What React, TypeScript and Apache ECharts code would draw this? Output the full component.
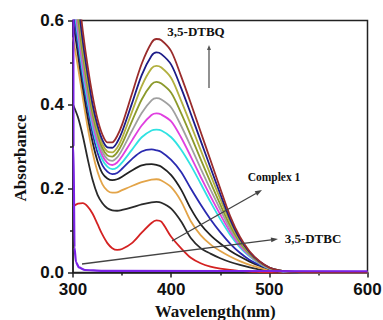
import React, { useEffect, useRef } from "react";
import * as echarts from "echarts";

// Wavelength grid (nm)
const WL = [300, 305, 310, 315, 320, 325, 330, 335, 340, 345, 350, 360, 370, 380, 385, 390, 400, 410, 420, 430, 440, 450, 460, 470, 480, 490, 500, 510, 520, 540, 600];

// Absorbance spectra (top to bottom at ~385 nm)
const brown = [0.8, 0.68, 0.575, 0.49, 0.42, 0.365, 0.328, 0.31, 0.31, 0.325, 0.352, 0.425, 0.497, 0.547, 0.556, 0.553, 0.527, 0.468, 0.403, 0.335, 0.268, 0.2, 0.135, 0.085, 0.05, 0.027, 0.012, 0.005, 0.002, 0, 0];
const navy = [0.76, 0.65, 0.55, 0.47, 0.4, 0.35, 0.315, 0.298, 0.297, 0.31, 0.335, 0.402, 0.47, 0.516, 0.524, 0.52, 0.495, 0.44, 0.378, 0.314, 0.25, 0.187, 0.127, 0.08, 0.048, 0.026, 0.012, 0.005, 0.002, 0, 0];
const olive1 = [0.74, 0.63, 0.535, 0.455, 0.39, 0.34, 0.305, 0.288, 0.286, 0.297, 0.32, 0.382, 0.444, 0.486, 0.492, 0.488, 0.463, 0.41, 0.352, 0.292, 0.233, 0.175, 0.12, 0.076, 0.046, 0.025, 0.011, 0.005, 0.002, 0, 0];
const olive2 = [0.72, 0.61, 0.52, 0.44, 0.378, 0.33, 0.296, 0.279, 0.276, 0.286, 0.306, 0.36, 0.412, 0.448, 0.454, 0.45, 0.428, 0.38, 0.326, 0.27, 0.215, 0.162, 0.112, 0.072, 0.044, 0.024, 0.011, 0.005, 0.002, 0, 0];
const gray = [0.7, 0.59, 0.505, 0.43, 0.367, 0.32, 0.287, 0.27, 0.266, 0.274, 0.292, 0.337, 0.38, 0.41, 0.415, 0.412, 0.393, 0.35, 0.3, 0.248, 0.198, 0.15, 0.104, 0.068, 0.042, 0.023, 0.01, 0.004, 0.002, 0, 0];
const magenta = [0.68, 0.575, 0.49, 0.42, 0.357, 0.31, 0.278, 0.261, 0.256, 0.262, 0.277, 0.314, 0.35, 0.375, 0.379, 0.376, 0.36, 0.322, 0.276, 0.228, 0.182, 0.138, 0.097, 0.064, 0.04, 0.022, 0.01, 0.004, 0.002, 0, 0];
const cyan = [0.66, 0.56, 0.475, 0.405, 0.345, 0.3, 0.268, 0.252, 0.246, 0.25, 0.262, 0.292, 0.322, 0.338, 0.34, 0.338, 0.322, 0.293, 0.255, 0.212, 0.168, 0.127, 0.09, 0.06, 0.038, 0.021, 0.009, 0.004, 0.001, 0, 0];
const blue = [0.63, 0.54, 0.46, 0.39, 0.33, 0.285, 0.255, 0.24, 0.234, 0.237, 0.247, 0.27, 0.288, 0.293, 0.291, 0.287, 0.268, 0.24, 0.2, 0.162, 0.127, 0.096, 0.069, 0.047, 0.03, 0.018, 0.009, 0.004, 0.001, 0, 0];
const black1 = [0.6, 0.52, 0.44, 0.37, 0.31, 0.265, 0.236, 0.224, 0.22, 0.222, 0.228, 0.243, 0.255, 0.258, 0.256, 0.252, 0.232, 0.198, 0.152, 0.115, 0.089, 0.069, 0.052, 0.038, 0.026, 0.016, 0.008, 0.004, 0.001, 0, 0];
const orange = [0.56, 0.49, 0.415, 0.345, 0.285, 0.24, 0.21, 0.195, 0.19, 0.191, 0.196, 0.206, 0.215, 0.221, 0.222, 0.219, 0.203, 0.17, 0.122, 0.089, 0.067, 0.051, 0.038, 0.027, 0.018, 0.011, 0.006, 0.003, 0.001, 0, 0];
const black2 = [0.4, 0.37, 0.325, 0.27, 0.22, 0.185, 0.165, 0.153, 0.148, 0.147, 0.149, 0.155, 0.162, 0.167, 0.168, 0.166, 0.152, 0.122, 0.082, 0.058, 0.045, 0.034, 0.025, 0.018, 0.012, 0.007, 0.004, 0.002, 0.001, 0, 0];
const red = [0.157, 0.164, 0.165, 0.157, 0.14, 0.115, 0.09, 0.07, 0.058, 0.054, 0.056, 0.07, 0.095, 0.118, 0.124, 0.121, 0.085, 0.058, 0.035, 0.022, 0.014, 0.009, 0.006, 0.004, 0.002, 0.001, 0, 0, 0, 0, 0];

// 3,5-DTBC spectrum (own wavelength points)
const dtbcWL = [300, 300.5, 301.5, 303, 306, 312, 330, 600];
const dtbc = [1.5, 0.3, 0.06, 0.025, 0.012, 0.006, 0.004, 0.003];

const curves = [
  { data: red, color: "#d42222" },
  { data: black2, color: "#2a2a2a" },
  { data: orange, color: "#e3a448" },
  { data: black1, color: "#222222" },
  { data: blue, color: "#2a2ab0" },
  { data: cyan, color: "#30e2e2" },
  { data: magenta, color: "#e040e0" },
  { data: gray, color: "#a0a0a0" },
  { data: olive2, color: "#8c9a2c" },
  { data: olive1, color: "#b2b040" },
  { data: navy, color: "#1c1c88" },
  { data: brown, color: "#9a2c2c" },
];

const X_TICKS = [300, 400, 500, 600];
const Y_TICKS = [0.0, 0.2, 0.4, 0.6];

function arrow(x1: number, y1: number, x2: number, y2: number, color: string, L = 7, W = 3) {
  const a = Math.atan2(y2 - y1, x2 - x1);
  const c = Math.cos(a), s = Math.sin(a);
  const bx = x2 - L * c, by = y2 - L * s;
  return [
    { type: "line", shape: { x1, y1, x2: bx, y2: by }, style: { stroke: color, lineWidth: 1.3 }, z: 100 },
    {
      type: "polygon",
      shape: { points: [[x2, y2], [bx + W * s, by - W * c], [bx - W * s, by + W * c]] },
      style: { fill: color },
      z: 100,
    },
  ];
}

export default function App() {
  const ref = useRef<HTMLDivElement>(null);
  useEffect(() => {
    const chart = echarts.init(ref.current!, null, { renderer: "svg" });
    const serif = "'Liberation Serif', 'DejaVu Serif', serif";
    const sans = "'Liberation Sans', Arial, sans-serif";
    const series: any[] = curves.map((c) => ({
      type: "line",
      data: WL.map((w, i) => [w, c.data[i]]),
      smooth: 0.3,
      showSymbol: false,
      lineStyle: { color: c.color, width: 1.8 },
      clip: true,
    }));
    series.push({
      type: "line",
      data: dtbcWL.map((w, i) => [w, dtbc[i]]),
      smooth: 0.2,
      smoothMonotone: "x",
      showSymbol: false,
      lineStyle: { color: "#7a22e6", width: 2.2 },
      clip: true,
      z: 5,
    });
    chart.setOption({
      animation: false,
      grid: {
        left: 73, right: 15.5, top: 20.5, bottom: 47.5,
        outerBoundsMode: "none",
        containLabel: false,
        show: true, borderColor: "#222", borderWidth: 1.5, backgroundColor: "transparent",
      },
      xAxis: {
        type: "value",
        min: X_TICKS[0],
        max: X_TICKS[X_TICKS.length - 1],
        interval: 100,
        name: "Wavelength(nm)",
        nameLocation: "middle",
        nameGap: 30,
        nameTextStyle: { fontFamily: serif, fontWeight: "bold", fontSize: 17, color: "#111", padding: [0, 10, 0, 0] },
        axisLine: { lineStyle: { color: "#222", width: 1.5 } },
        axisTick: { inside: false, length: 5, lineStyle: { color: "#222", width: 1.5 } },
        minorTick: { show: true, splitNumber: 2, length: 3, lineStyle: { color: "#222", width: 1.5 } },
        splitLine: { show: false },
        axisLabel: { fontFamily: sans, fontWeight: "bold", fontSize: 17, color: "#111", margin: 8 },
      },
      yAxis: {
        type: "value",
        min: Y_TICKS[0],
        max: Y_TICKS[Y_TICKS.length - 1],
        interval: 0.2,
        axisLine: { show: true, lineStyle: { color: "#222", width: 1.5 } },
        axisTick: { show: true, inside: false, length: 5, lineStyle: { color: "#222", width: 1.5 } },
        minorTick: { show: true, splitNumber: 2, length: 3, lineStyle: { color: "#222", width: 1.5 } },
        splitLine: { show: false },
        axisLabel: {
          fontFamily: sans,
          fontWeight: "bold",
          fontSize: 17,
          color: "#111",
          margin: 9,
          formatter: (v: number) => v.toFixed(1),
        },
      },
      series,
      graphic: [
        {
          type: "text",
          x: 20,
          y: 158,
          rotation: Math.PI / 2,
          style: { text: "Absorbance", fontFamily: serif, fontWeight: "bold", fontSize: 17, fill: "#111", align: "center", verticalAlign: "middle" },
        },
        {
          type: "text",
          x: 196,
          y: 31,
          style: { text: "3,5-DTBQ", fontFamily: serif, fontWeight: "bold", fontSize: 13, fill: "#111", align: "center", verticalAlign: "middle" },
          z: 100,
        },
        ...arrow(209, 88, 209, 45, "#555", 5, 2),
        {
          type: "text",
          x: 274,
          y: 177,
          style: { text: "Complex 1", fontFamily: serif, fontWeight: "bold", fontSize: 11.5, fill: "#111", align: "center", verticalAlign: "middle" },
          z: 100,
        },
        ...arrow(172, 241, 262, 190, "#444", 7, 2.5),
        {
          type: "text",
          x: 313,
          y: 238,
          style: { text: "3,5-DTBC", fontFamily: serif, fontWeight: "bold", fontSize: 13, fill: "#111", align: "center", verticalAlign: "middle" },
          z: 100,
        },
        ...arrow(82, 264, 278, 239, "#444", 7, 2.5),
      ],
    });
    return () => chart.dispose();
  }, []);
  return <div ref={ref} style={{ position: "fixed", left: 0, top: 0, width: 383, height: 320, background: "#fff" }} />;
}
